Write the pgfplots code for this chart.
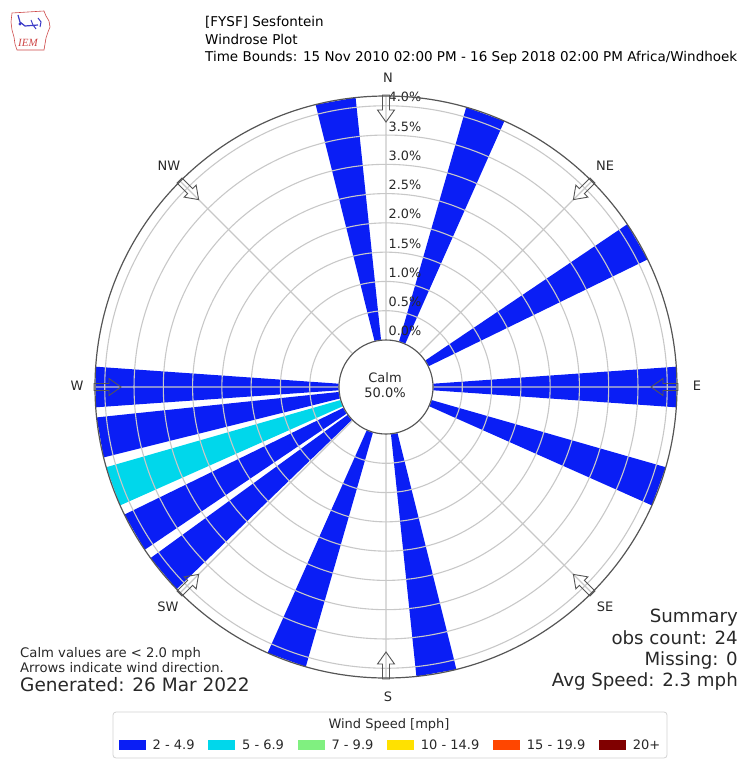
\documentclass[border=0pt]{standalone}
\usepackage{pgfplots}
\pgfplotsset{compat=1.18}
\usepgfplotslibrary{polar}
\usepackage{fontspec}
\setmainfont{DejaVu Sans}
\newfontfamily\iemfont{Liberation Serif}
\definecolor{binA}{RGB}{10,30,245}
\definecolor{binB}{RGB}{0,215,235}
\definecolor{binC}{RGB}{128,240,128}
\definecolor{binD}{RGB}{255,225,0}
\definecolor{binE}{RGB}{255,70,0}
\definecolor{binF}{RGB}{128,0,0}
\definecolor{gridgray}{RGB}{200,200,200}
\definecolor{outergray}{RGB}{85,85,85}
\definecolor{txt}{RGB}{40,40,40}
\definecolor{legbox}{RGB}{210,210,210}
\definecolor{iemred}{RGB}{205,70,70}
\definecolor{iemblue}{RGB}{60,60,200}
\newcommand\fs[1]{\fontsize{#1}{#1}\selectfont}
\begin{document}
\begin{tikzpicture}
\useasboundingbox (0pt,0pt) rectangle (741pt,-759pt);
\begin{polaraxis}[
  at={(386pt,-387pt)}, anchor=center,
  scale only axis, width=582pt, height=582pt,
  enlargelimits=false,
  xmin=0, xmax=360,
  ymin=-0.803, ymax=4.1667,
  y coord trafo/.code={\pgfmathparse{#1+0.803}},
  y coord inv trafo/.code={\pgfmathparse{#1-0.803}},
  xtick={0,45,...,315}, xticklabels={},
  ytick={0,0.5,...,4}, yticklabels={},
  major tick length=0pt,
  grid=major,
  grid style={draw=gridgray, line width=1.1pt},
  axis line style={line width=1.2pt},
  x axis line style={draw=outergray},
  y axis line style={draw=none},
  axis on top,
  clip=false,
  legend columns=6,
  legend style={at={(0.506,-0.1151)}, anchor=center, draw=none, fill=none,
    font=\fs{13}, text=txt, nodes={inner sep=0pt},
    /tikz/every odd column/.append style={column sep=7pt},
    /tikz/every even column/.append style={column sep=13.5pt}},
  legend image code/.code={\fill[#1] (0pt,-5pt) rectangle (27pt,5pt);},
]
% bars: angle in polar-axis degrees (0 = East, counter-clockwise), radius = frequency [%]
% 2 - 4.9 mph
\addplot[fill=binA, draw=none, forget plot] coordinates {(66,0) (66,4.1667) (74,4.1667) (74,0)};   % 20 deg
\addplot[fill=binA, draw=none, forget plot] coordinates {(26,0) (26,4.1667) (34,4.1667) (34,0)};   % 60 deg
\addplot[fill=binA, draw=none, forget plot] coordinates {(-4,0) (-4,4.1667) (4,4.1667) (4,0)};     % 90 deg
\addplot[fill=binA, draw=none, forget plot] coordinates {(336,0) (336,4.1667) (344,4.1667) (344,0)}; % 110 deg
\addplot[fill=binA, draw=none, forget plot] coordinates {(276,0) (276,4.1667) (284,4.1667) (284,0)}; % 170 deg
\addplot[fill=binA, draw=none, forget plot] coordinates {(246,0) (246,4.1667) (254,4.1667) (254,0)}; % 200 deg
\addplot[fill=binA, draw=none, forget plot] coordinates {(216,0) (216,4.1667) (224,4.1667) (224,0)}; % 230 deg
\addplot[fill=binA, draw=none, forget plot] coordinates {(206,0) (206,4.1667) (214,4.1667) (214,0)}; % 240 deg
\addplot[fill=binA, draw=none, forget plot] coordinates {(186,0) (186,4.1667) (194,4.1667) (194,0)}; % 260 deg
\addplot[fill=binA, draw=none, forget plot] coordinates {(176,0) (176,4.1667) (184,4.1667) (184,0)}; % 270 deg
\addplot[fill=binA, draw=none, forget plot] coordinates {(96,0) (96,4.1667) (104,4.1667) (104,0)};   % 350 deg
% 5 - 6.9 mph
\addplot[fill=binB, draw=none, forget plot] coordinates {(196,0) (196,4.1667) (204,4.1667) (204,0)}; % 250 deg

\addlegendimage{fill=binA, draw=none}\addlegendentry{2 - 4.9}
\addlegendimage{fill=binB, draw=none}\addlegendentry{5 - 6.9}
\addlegendimage{fill=binC, draw=none}\addlegendentry{7 - 9.9}
\addlegendimage{fill=binD, draw=none}\addlegendentry{10 - 14.9}
\addlegendimage{fill=binE, draw=none}\addlegendentry{15 - 19.9}
\addlegendimage{fill=binF, draw=none}\addlegendentry{20+}

\pgfplotsinvokeforeach{0.0,0.5,1.0,1.5,2.0,2.5,3.0,3.5,4.0}{
  \node[anchor=base west, font=\fs{12.8}, text=txt, inner sep=0pt, xshift=2.5pt, yshift=4pt] at (axis cs:90,#1) {#1\%};
}
\end{polaraxis}

\begin{scope}[x=1pt,y=-1pt]
% calm circle
\draw[fill=white, draw=outergray, line width=1.1pt] (386,387) circle[radius=47pt];
\node[align=center, font=\fs{13}, text=txt, inner sep=0pt] at (385,385) {Calm\\[2pt]50.0\%};
% direction arrows
\foreach \a in {0,45,...,315}{
  \draw[draw=outergray, line width=0.9pt, shift={(386,387)}, rotate=\a]
    (292,-3.5) -- (277,-3.5) -- (277,-8.5) -- (265,0) -- (277,8.5) -- (277,3.5) -- (292,3.5) -- cycle;
}
% compass labels
\begin{scope}[font=\fs{13}, text=txt]
\node at (388,78) {N};
\node at (605,166) {NE};
\node at (697,386) {E};
\node at (605,607) {SE};
\node at (388,697) {S};
\node at (168,607) {SW};
\node at (77,386) {W};
\node at (169,166) {NW};
\end{scope}
% titles
\begin{scope}[font=\fs{13.5}, inner sep=0pt]
\node[anchor=base west] at (205,27) {[FYSF] Sesfontein};
\node[anchor=base west] at (205,45) {Windrose Plot};
\node[anchor=base west] at (205,62) {Time Bounds: 15 Nov 2010 02:00 PM - 16 Sep 2018 02:00 PM Africa/Windhoek};
\end{scope}
% notes
\node[anchor=base west, inner sep=0pt, font=\fs{13.2}, text=txt] at (20,657) {Calm values are < 2.0 mph};
\node[anchor=base west, inner sep=0pt, font=\fs{13.2}, text=txt] at (20,672) {Arrows indicate wind direction.};
\node[anchor=base west, inner sep=0pt, font=\fs{18.5}, text=txt] at (20,691) {Generated: 26 Mar 2022};
\begin{scope}[font=\fs{18.2}, text=txt, inner sep=0pt]
\node[anchor=base east] at (738,622) {Summary};
\node[anchor=base east] at (738,644) {obs count: 24};
\node[anchor=base east] at (738,665) {Missing: 0};
\node[anchor=base east] at (738,686) {Avg Speed: 2.3 mph};
\end{scope}
% legend frame and title
\draw[draw=legbox, line width=0.8pt, rounded corners=3pt] (113,712) rectangle (667,758);
\node[font=\fs{13}, text=txt, inner sep=0pt] at (389,725) {Wind Speed [mph]};
% IEM logo
\draw[iemred, line width=0.6pt] (12,13) -- (44,11) -- (46,16) -- (49,21) -- (50,27) -- (48,32) -- (46,38) -- (45,44) -- (44,50) -- (17,50) -- (15,44) -- (14,37) -- (12,30) -- (11,22) -- cycle;
\draw[iemblue, line width=1.2pt] (18,15) -- (20,22) -- (25,26) -- (38,25);
\draw[iemblue, line width=1pt] (31,20) -- (33,25) -- (36,29);
\draw[iemblue, line width=1pt] (38,18) -- (41,22) -- (40,27);
\fill[iemblue] (20,24) circle[radius=1.6pt];
\node[font=\iemfont\itshape\fs{11}, text=iemred, inner sep=0pt] at (28,43) {IEM};
\end{scope}
\end{tikzpicture}
\end{document}
